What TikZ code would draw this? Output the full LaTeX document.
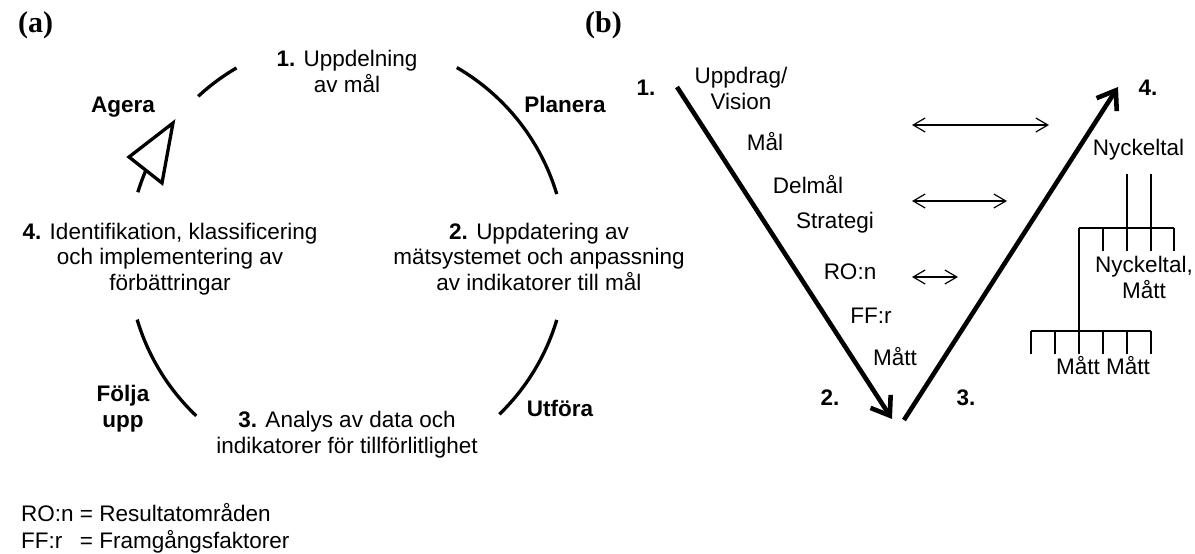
\documentclass[tikz,border=0pt]{standalone}
\usepackage{fontspec}
\setmainfont{Liberation Sans}
\newfontfamily\serifb{Liberation Serif}
\usetikzlibrary{arrows.meta}
\begin{document}
\begin{tikzpicture}[x=1pt,y=1pt,
  lbl/.style={inner sep=0pt, anchor=base, font=\fontsize{22.5}{25.5}\selectfont, align=center},
  blbl/.style={lbl, font=\fontsize{22.5}{25.5}\selectfont\bfseries},
  cyc/.style={line width=3.3pt},
  vline/.style={line width=4.6pt, -{Straight Barb[length=17pt,width=24pt]}},
  dbl/.style={line width=1.2pt, {Straight Barb[length=12pt,width=14pt]}-{Straight Barb[length=12pt,width=14pt]}},
  tree/.style={line width=1.3pt},
  panel/.style={inner sep=0pt, anchor=base west, font=\fontsize{30}{34}\serifb\bfseries}
]
\useasboundingbox (0,0) rectangle (1195,-554);

% panel labels
\node[panel] (pa) at (18,-32) {(a)};
\node[panel] (pb) at (585,-32) {(b)};

% ---------- (a) cycle ----------
\coordinate (c) at (347,-257);
\def\R{219}
\draw[cyc] (c) ++(120.3:\R) arc[start angle=120.3, end angle=132.8, radius=\R];
\draw[cyc] (c) ++(16.7:\R) arc[start angle=16.7, end angle=59.9, radius=\R];
\draw[cyc] (c) ++(-45.9:\R) arc[start angle=-45.9, end angle=-16.7, radius=\R];
\draw[cyc] (c) ++(196.6:\R) arc[start angle=196.6, end angle=226.5, radius=\R];
\draw[cyc] (c) ++(162.8:\R) arc[start angle=162.8, end angle=157.0, radius=\R];
\coordinate (tip) at (173,-123);
\coordinate (tl) at (129,-157);
\coordinate (tr) at (162,-183);
\draw[cyc, line join=miter] (tip) -- (tl) -- (tr) -- cycle;

% multi-line nodes: anchor base = baseline of last line
\node[lbl] (s1) at (347,-92) {\textbf{1.} Uppdelning\\av mål};
\node[lbl] (s2) at (539,-290) {\textbf{2.} Uppdatering av\\mätsystemet och anpassning\\av indikatorer till mål};
\node[lbl] (s3) at (347,-453) {\textbf{3.} Analys av data och\\indikatorer för tillförlitlighet};
\node[lbl] (s4) at (170,-290) {\textbf{4.} Identifikation, klassificering\\och implementering av\\förbättringar};
\node[blbl] (agera) at (123,-112) {Agera};
\node[blbl] (planera) at (565,-112) {Planera};
\node[blbl] (folja) at (123,-427) {Följa\\upp};
\node[blbl] (utfora) at (560,-416) {Utföra};

% legend
\node[lbl, anchor=base west] (legend) at (21,-548)
  {\begin{tabular}[b]{@{}l@{\ }l@{}}RO:n & = Resultatområden\\[1pt] FF:r & = Framgångsfaktorer\end{tabular}};

% ---------- (b) V model ----------
\coordinate (v1) at (677,-87);
\coordinate (v2) at (892,-419);
\coordinate (v3) at (904,-420);
\coordinate (v4) at (1118,-87);
\draw[vline] (v1) -- (v2);
\draw[vline] (v3) -- (v4);

\coordinate (a1l) at (912,-125); \coordinate (a1r) at (1049,-125);
\coordinate (a2l) at (912,-201); \coordinate (a2r) at (1007,-201);
\coordinate (a3l) at (912,-277); \coordinate (a3r) at (958,-277);
\draw[dbl] (a1l) -- (a1r);
\draw[dbl] (a2l) -- (a2r);
\draw[dbl] (a3l) -- (a3r);

\node[blbl] (n1) at (646,-95) {1.};
\node[blbl] (n2) at (830,-405) {2.};
\node[blbl] (n3) at (966,-405) {3.};
\node[blbl] (n4) at (1148,-95) {4.};
\node[lbl] (uv) at (741,-109) {Uppdrag/\\Vision};
\node[lbl] (mal) at (765,-150) {Mål};
\node[lbl] (delmal) at (808,-193) {Delmål};
\node[lbl] (strat) at (835,-228) {Strategi};
\node[lbl] (ron) at (850,-279) {RO:n};
\node[lbl] (ffr) at (871,-323) {FF:r};
\node[lbl] (matt) at (895,-365) {Mått};
\node[lbl] (nyck) at (1138.5,-155) {Nyckeltal};
\node[lbl] (nyckm) at (1144,-298) {Nyckeltal,\\Mått};
\node[lbl] (mm) at (1103,-374) {Mått Mått};

% tree
\draw[tree] (1127,-174) -- (1127,-251);
\draw[tree] (1151,-174) -- (1151,-251);
\draw[tree] (1079,-228) -- (1174,-228);
\draw[tree] (1103,-228) -- (1103,-251);
\draw[tree] (1174,-228) -- (1174,-251);
\draw[tree] (1079,-228) -- (1079,-331);
\draw[tree] (1031,-331) -- (1151,-331);
\foreach \x in {1031,1055,1079,1103,1127,1151}
  \draw[tree] (\x,-331) -- (\x,-354);
\end{tikzpicture}
\end{document}
